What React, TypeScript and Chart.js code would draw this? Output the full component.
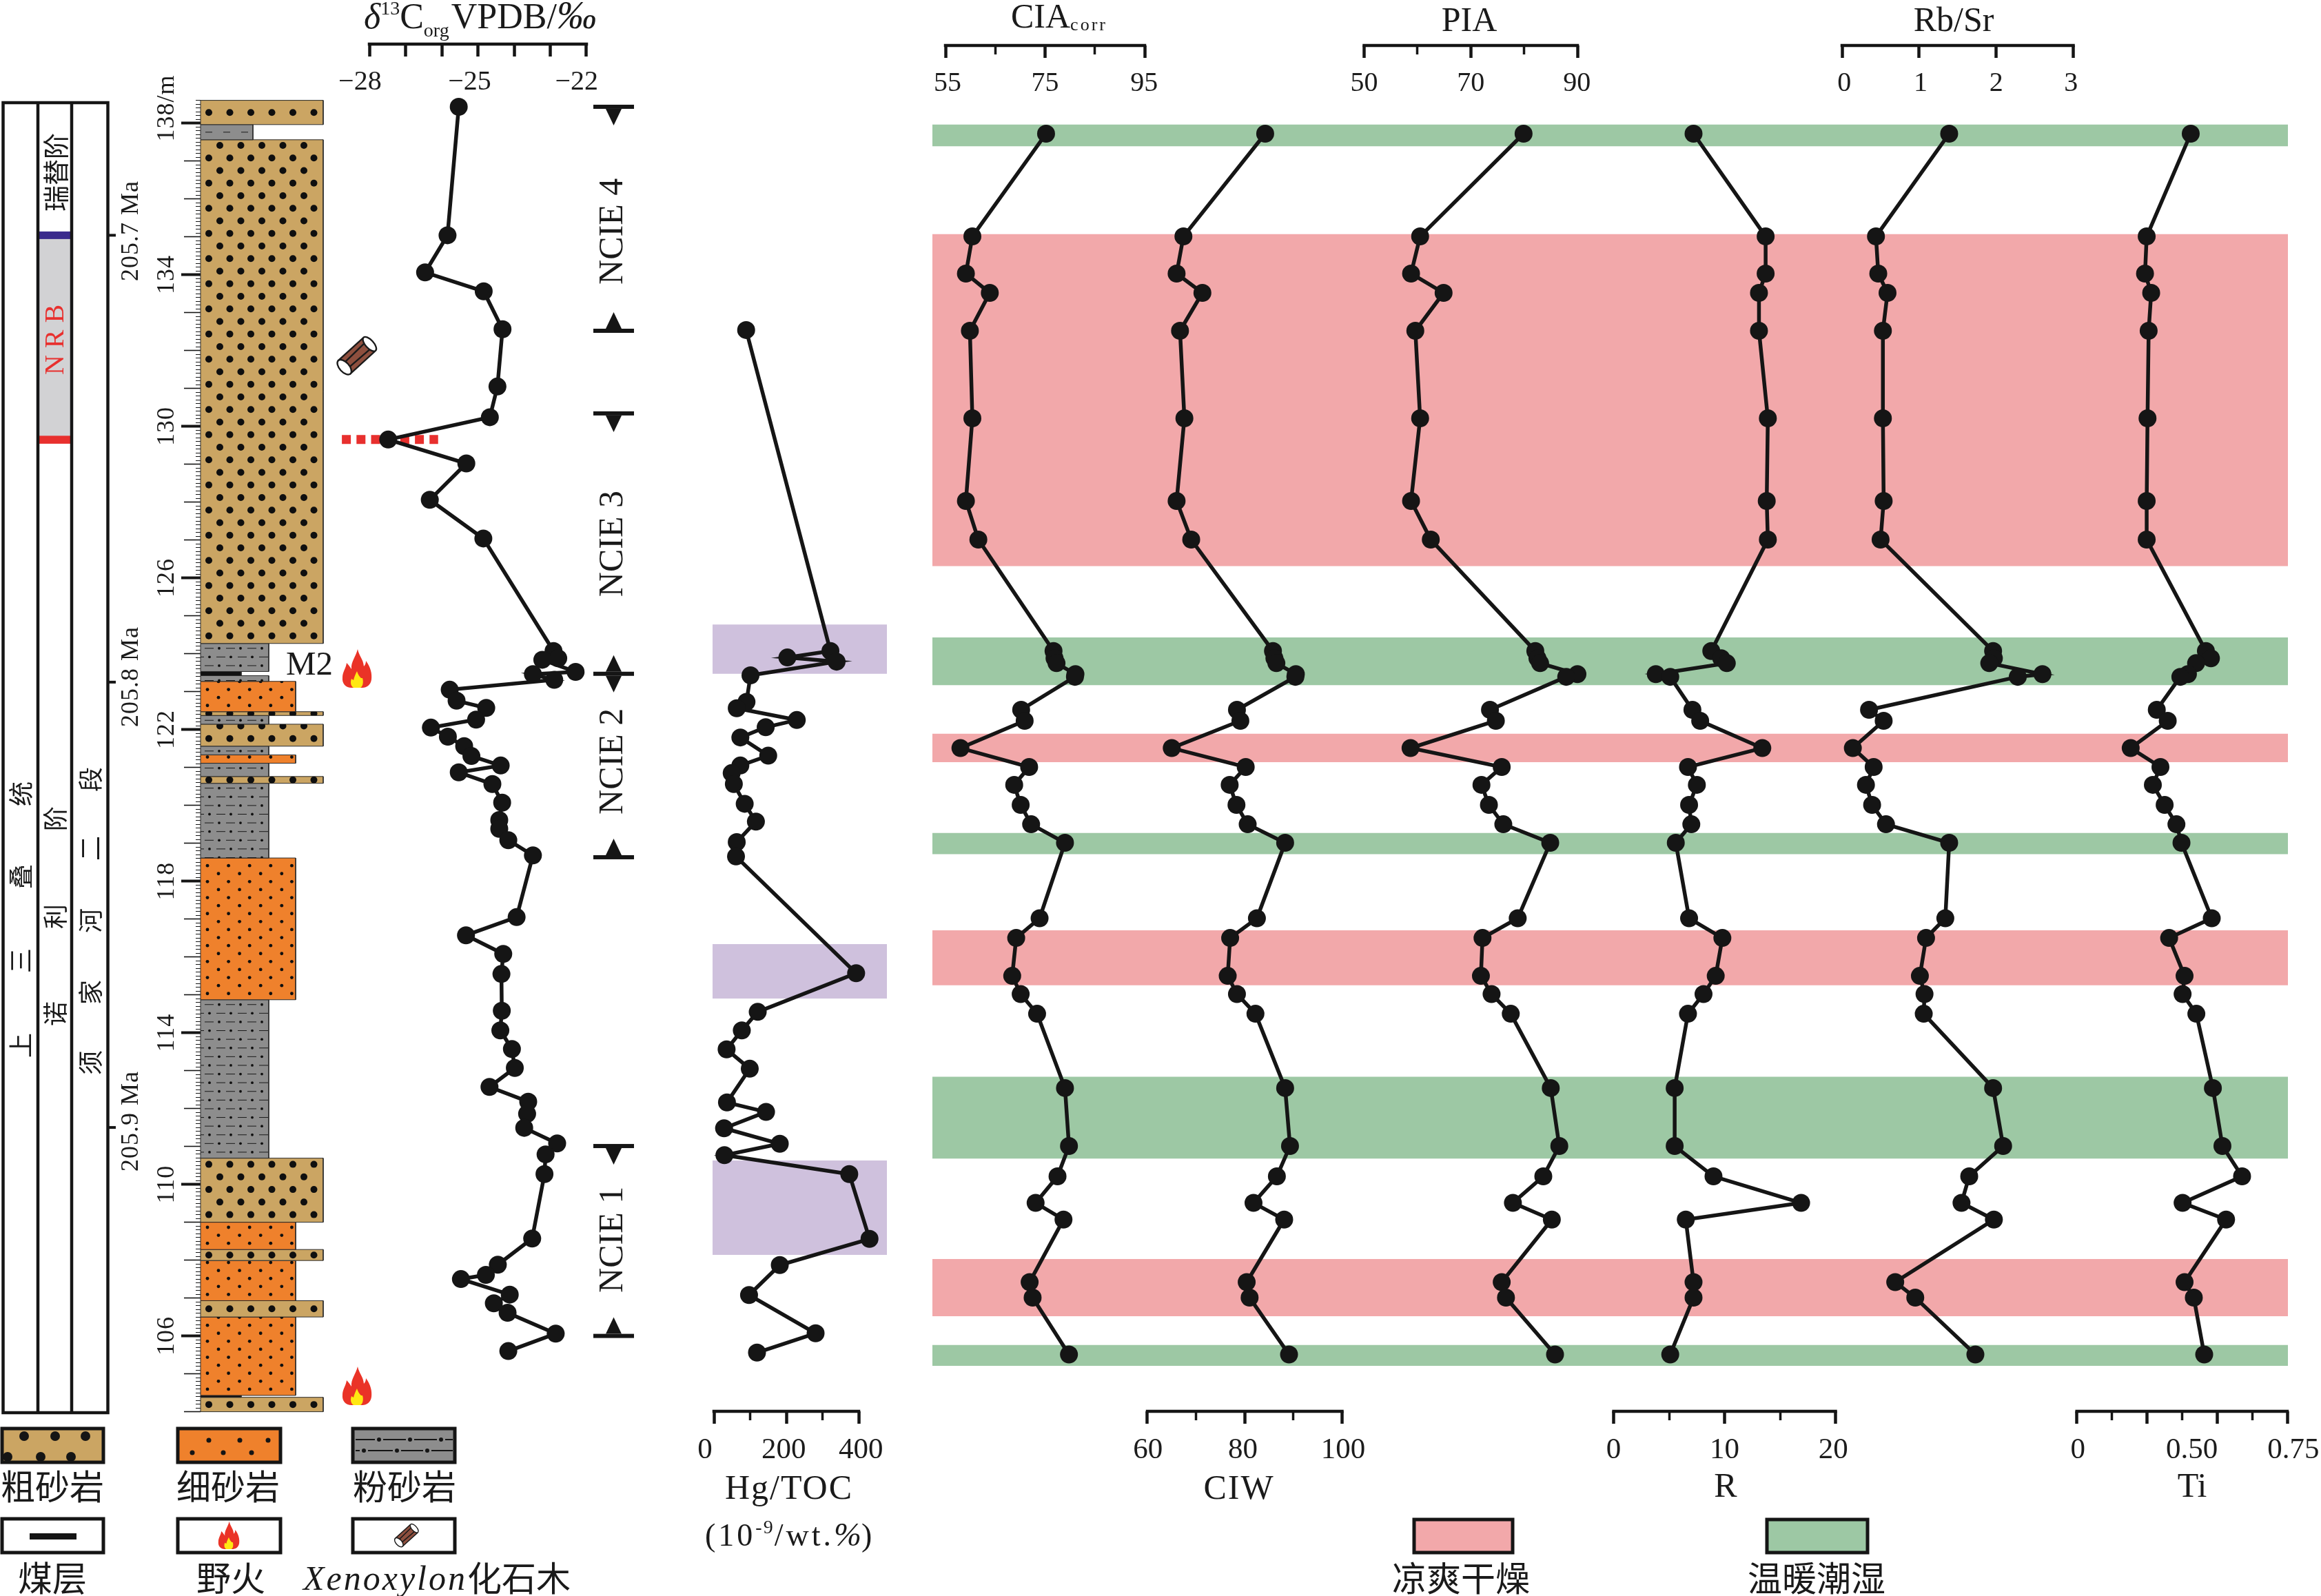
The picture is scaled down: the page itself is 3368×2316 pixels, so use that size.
import React, { useEffect, useRef } from 'react';
import { Chart, registerables } from 'chart.js';

Chart.register(...registerables);

const W = 3368;
const H = 2316;
const SERIF = '"Liberation Serif"';
const CJK = '"Noto Sans CJK SC"';
const INK = '#151515';

// ---------- data ----------
const sampleDepth = [137.72, 135.01, 134.03, 133.52, 132.52, 130.21, 128.03, 127.01, 124.07, 123.88, 123.75, 123.46, 123.39, 122.52, 122.23, 121.51, 121.01, 120.54, 120.01, 119.5, 119.01, 117.02, 116.5, 115.5, 115.02, 114.5, 112.54, 111.01, 110.21, 109.51, 109.07, 107.42, 107.01, 105.51];
const ciaCorr = [75.2, 60.4, 59.1, 63.9, 59.9, 60.4, 59.1, 61.6, 76.7, 76.9, 77.3, 81.1, 81.0, 70.2, 70.9, 58.0, 71.8, 68.8, 70.1, 72.2, 79.0, 73.9, 69.2, 68.4, 70.1, 73.4, 79.0, 79.8, 77.5, 73.1, 78.7, 71.9, 72.5, 79.8];
const ciw = [84.2, 67.4, 66.0, 71.3, 66.7, 67.6, 66.0, 69.0, 85.8, 86.1, 86.5, 90.5, 90.4, 78.4, 79.1, 65.0, 80.2, 76.9, 78.3, 80.6, 88.3, 82.5, 77.0, 76.5, 78.4, 82.2, 88.3, 89.3, 86.6, 81.8, 88.1, 80.4, 81.0, 89.1];
const pia = [79.9, 60.5, 58.8, 64.9, 59.6, 60.5, 58.8, 62.5, 82.1, 82.5, 83.0, 90.0, 87.9, 73.6, 74.7, 58.7, 75.8, 72.0, 73.4, 76.1, 84.9, 78.8, 72.2, 71.9, 73.9, 77.5, 85.0, 86.6, 83.6, 77.9, 85.2, 75.8, 76.6, 85.8];
const rIndex = [7.2, 13.7, 13.7, 13.1, 13.1, 13.9, 13.8, 13.9, 8.8, 9.7, 10.2, 3.8, 5.1, 7.1, 7.8, 13.4, 6.7, 7.5, 6.8, 7.0, 5.6, 6.8, 9.8, 9.2, 8.1, 6.7, 5.5, 5.5, 9.0, 16.9, 6.5, 7.2, 7.2, 5.1];
const rbSr = [1.39, 0.44, 0.47, 0.59, 0.53, 0.53, 0.54, 0.5, 1.96, 1.97, 1.91, 2.6, 2.28, 0.35, 0.54, 0.14, 0.41, 0.31, 0.39, 0.57, 1.39, 1.34, 1.09, 1.01, 1.07, 1.06, 1.96, 2.09, 1.65, 1.55, 1.97, 0.69, 0.95, 1.73];
const ti = [0.406, 0.249, 0.243, 0.265, 0.256, 0.252, 0.249, 0.249, 0.46, 0.478, 0.425, 0.396, 0.369, 0.285, 0.324, 0.192, 0.298, 0.271, 0.313, 0.355, 0.373, 0.481, 0.329, 0.384, 0.377, 0.426, 0.485, 0.519, 0.589, 0.377, 0.532, 0.384, 0.417, 0.454];

const d13cDepth = [138.43, 135.04, 134.06, 133.56, 132.56, 131.05, 130.24, 129.65, 129.02, 128.06, 127.04, 124.07, 123.88, 123.84, 123.52, 123.46, 123.31, 123.05, 122.76, 122.57, 122.26, 122.05, 121.81, 121.56, 121.3, 121.05, 120.87, 120.56, 120.07, 119.61, 119.38, 119.08, 118.68, 117.05, 116.57, 116.08, 115.55, 114.58, 114.06, 113.57, 113.07, 112.57, 112.18, 111.86, 111.49, 111.08, 110.79, 110.27, 108.57, 107.88, 107.61, 107.5, 107.09, 106.86, 106.61, 106.06, 105.6];
const d13c = [-25.53, -25.84, -26.46, -24.84, -24.32, -24.46, -24.67, -27.48, -25.32, -26.33, -24.85, -22.91, -22.78, -23.22, -22.3, -23.48, -22.89, -25.78, -25.59, -24.77, -25.05, -26.3, -25.83, -25.38, -25.18, -24.37, -25.53, -24.6, -24.33, -24.41, -24.41, -24.16, -23.48, -23.93, -25.33, -24.3, -24.35, -24.34, -24.38, -24.06, -23.98, -24.68, -23.61, -23.64, -23.72, -22.81, -23.13, -23.16, -23.5, -24.45, -24.78, -25.47, -24.12, -24.56, -24.18, -22.85, -24.16];

const hgDepth = [132.54, 124.07, 123.9, 123.79, 123.43, 122.73, 122.56, 122.25, 122.06, 121.79, 121.31, 121.05, 120.85, 120.56, 120.04, 119.57, 119.03, 118.65, 115.57, 114.55, 114.06, 113.56, 113.05, 112.16, 111.91, 111.48, 111.07, 110.77, 110.27, 108.56, 107.87, 107.08, 106.07, 105.56];
const hgToc = [89, 322, 203, 339, 101, 90, 63, 229, 143, 73, 150, 73, 49, 55, 85, 116, 63, 61, 393, 121, 77, 35, 99, 36, 144, 28, 182, 29, 374, 430, 182, 97, 281, 119];

const coolTop = [135.07, 121.89, 116.7, 108.03];
const coolBase = [126.31, 121.14, 115.25, 106.52];
const warmTop = [137.96, 124.43, 119.27, 112.84, 105.76];
const warmBase = [137.39, 123.17, 118.71, 110.68, 105.21];
const hgTop = [124.77, 116.34, 110.63];
const hgBase = [123.47, 114.9, 108.14];

const lithTop = [138.6, 137.96, 137.56, 124.27, 123.53, 123.42, 123.27, 122.47, 122.37, 122.14, 121.56, 121.33, 121.11, 120.76, 120.58, 118.61, 114.87, 110.69, 109.0, 108.28, 107.99, 106.93, 106.5, 104.43, 104.38];
const lithBase = [137.96, 137.56, 124.27, 123.53, 123.42, 123.27, 122.47, 122.37, 122.14, 121.56, 121.33, 121.11, 120.76, 120.58, 118.61, 114.87, 110.69, 109.0, 108.28, 107.99, 106.93, 106.5, 104.43, 104.38, 104.0];
const lithType = ['coarse', 'siltThin', 'coarse', 'silt', 'coal', 'silt', 'fine', 'coarse', 'silt', 'coarse', 'silt', 'fine', 'silt', 'coarse', 'silt', 'fine', 'silt', 'coarse', 'fine', 'coarse', 'fine', 'coarse', 'fine', 'coal', 'coarse'];

const ncieDepth = [138.43, 132.52, 130.34, 123.47, 118.63, 111.01, 106.0];
const ncieArrow = ['down', 'up', 'down', 'both', 'up', 'down', 'up'];
const ncieLabels = ['NCIE 4', 'NCIE 3', 'NCIE 2', 'NCIE 1'];
const ncieLabelDepth = [135.14, 126.9, 121.16, 108.54];

const depthMajor = [138, 134, 130, 126, 122, 118, 114, 110, 106];
const depthLabels = ['138/m', '134', '130', '126', '122', '118', '114', '110', '106'];
const ageDepth = [135.04, 123.25, 111.5];
const ageLabels = ['205.7 Ma', '205.8 Ma', '205.9 Ma'];
const nrbDepth = 129.65;
const nrbDashX = [-28.76, -26.1];

const TRACKS = [
  { id: 'D13C', v0: -28, v1: -22, p0: 536, p1: 851, axisPx: 64, labelSize: 40, major: [-28, -27, -26, -25, -24, -23, -22], minor: [], labels: ['\u221228', '\u221225', '\u221222'], labelAt: [-28.26, -25.23, -22.27], values: d13c, depth: d13cDepth },
  { id: 'Hg', v0: 0, v1: 400, p0: 1036, p1: 1246, axisPx: 2048, labelSize: 43, major: [0, 200, 400], minor: [100, 300], labels: ['0', '200', '400'], labelAt: [-25, 193, 406], values: hgToc, depth: hgDepth },
  { id: 'CIA', v0: 55, v1: 95, p0: 1372, p1: 1661, axisPx: 66, labelSize: 40, major: [55, 75, 95], minor: [65, 85], labels: ['55', '75', '95'], labelAt: [55.4, 75, 94.9], values: ciaCorr, depth: sampleDepth },
  { id: 'CIW', v0: 60, v1: 100, p0: 1665, p1: 1947.5, axisPx: 2048, labelSize: 43, major: [60, 80, 100], minor: [70, 90], labels: ['60', '80', '100'], labelAt: [60.1, 79.6, 100.2], values: ciw, depth: sampleDepth },
  { id: 'PIA', v0: 50, v1: 90, p0: 1979.5, p1: 2289, axisPx: 66, labelSize: 40, major: [50, 70, 90], minor: [60, 80], labels: ['50', '70', '90'], labelAt: [50, 70, 89.9], values: pia, depth: sampleDepth },
  { id: 'R', v0: 0, v1: 20, p0: 2341.6, p1: 2663.5, axisPx: 2048, labelSize: 43, major: [0, 10, 20], minor: [5, 15], labels: ['0', '10', '20'], labelAt: [0, 10, 19.8], values: rIndex, depth: sampleDepth },
  { id: 'RbSr', v0: 0, v1: 3, p0: 2673, p1: 3008.5, axisPx: 66, labelSize: 40, major: [0, 1, 2, 3], minor: [], labels: ['0', '1', '2', '3'], labelAt: [0.03, 1.02, 2, 2.97], values: rbSr, depth: sampleDepth },
  { id: 'Ti', v0: 0, v1: 0.75, p0: 3013.7, p1: 3319, axisPx: 2048, labelSize: 43, major: [0, 0.25, 0.5, 0.75], minor: [0.125, 0.375, 0.625], labels: ['0', '0.50', '0.75'], labelAt: [0.004, 0.41, 0.772], values: ti, depth: sampleDepth },
];

const BAND_L = 1353;
const BAND_R = 3320;
const HG_L = 1034;
const HG_R = 1287;
const COOL = '#F2A8AA';
const WARM = '#9DC8A4';
const HG_BAND = '#CFC1DD';
const LITH_FILL: any = { coarse: '#CBA563', fine: '#EF812C', silt: '#8D8D8D', siltThin: '#8D8D8D', coal: '#111111' };
const LITH_X0 = 291;
const LITH_X1: any = { coarse: 469, fine: 429, silt: 390, siltThin: 367, coal: 350 };
const LABEL_DROP = 31;

// ---------- helpers ----------
const spanOf = (v0: number, v1: number, p0: number, p1: number, size: number) => {
  const k = (v1 - v0) / (p1 - p0);
  return { min: v0 - p0 * k, max: v0 + (size - p0) * k };
};

const box = (label: string, x0: number, x1: number, top: number, base: number, color: string, order: number, edge = 0) => ({
  type: 'scatter',
  label,
  xAxisID: 'xPx',
  yAxisID: 'yDepth',
  data: [{ x: x0, y: top }, { x: x1, y: top }, { x: x1, y: base }, { x: x0, y: base }, { x: x0, y: top }],
  showLine: true,
  fill: 'shape',
  backgroundColor: color,
  borderColor: edge ? '#2a2a2a' : color,
  borderWidth: edge,
  pointRadius: 0,
  order,
});

function axisScales() {
  const scales: any = {
    xPx: { type: 'linear', axis: 'x', display: false, min: 0, max: W },
    yPx: { type: 'linear', axis: 'y', display: false, min: 0, max: H, reverse: true },
  };
  const depthRange = spanOf(138, 106, 178.6, 178.6 + 32 * 55, H);
  // depth increases upward: max at canvas top, min at canvas bottom
  const yRange = { min: depthRange.max, max: depthRange.min };
  const depthAxis = (ticks: number[], len: number, width: number) => ({
    type: 'linear', axis: 'y', position: { xPx: LITH_X0 }, ...yRange,
    border: { display: false },
    grid: { drawOnChartArea: false, drawTicks: true, tickLength: len, tickWidth: width, tickColor: INK },
    ticks: { display: false, autoSkip: false },
    afterBuildTicks: (s: any) => { s.ticks = ticks.map((value) => ({ value })); },
  });
  const fine: number[] = [];
  const unit: number[] = [];
  for (let i = 1040; i <= 1386; i++) {
    if (i % 10 === 0) { if (!depthMajor.includes(i / 10)) unit.push(i / 10); } else fine.push(i / 10);
  }
  scales.yDepth = depthAxis(depthMajor, 28, 4);
  scales.yDepthUnit = depthAxis(unit, 24, 1.6);
  scales.yDepthFine = depthAxis(fine, 7, 1);

  for (const t of TRACKS) {
    const range = spanOf(t.v0, t.v1, t.p0, t.p1, W);
    const marks = (ticks: number[], len: number, width: number) => ({
      type: 'linear', axis: 'x', position: { yPx: t.axisPx }, ...range,
      border: { display: false },
      grid: { drawOnChartArea: false, drawTicks: true, tickLength: len, tickWidth: width, tickColor: INK },
      ticks: { display: false, autoSkip: false },
      afterBuildTicks: (s: any) => { s.ticks = ticks.map((value) => ({ value })); },
    });
    scales['x' + t.id] = marks(t.major, 18, 4.5);
    scales['x' + t.id + 'Minor'] = marks(t.minor, 13, 3.5);
    scales['x' + t.id + 'Labels'] = {
      type: 'linear', axis: 'x', position: { yPx: t.axisPx + LABEL_DROP }, ...range,
      border: { display: false },
      grid: { display: false, drawTicks: false },
      ticks: {
        autoSkip: false, maxRotation: 0, minRotation: 0, padding: 0, color: '#1c1c1c',
        font: { family: SERIF, size: t.labelSize },
        callback: (_v: any, i: number) => t.labels[i],
      },
      afterBuildTicks: (s: any) => { s.ticks = t.labelAt.map((value) => ({ value })); },
    };
  }
  return scales;
}

function datasets() {
  const out: any[] = [];
  coolTop.forEach((d, i) => out.push(box('cool-dry', BAND_L, BAND_R, d, coolBase[i], COOL, 50)));
  warmTop.forEach((d, i) => out.push(box('warm-humid', BAND_L, BAND_R, d, warmBase[i], WARM, 50)));
  hgTop.forEach((d, i) => out.push(box('Hg anomaly', HG_L, HG_R, d, hgBase[i], HG_BAND, 50)));
  lithTop.forEach((d, i) => {
    const k = lithType[i];
    out.push(box(k, LITH_X0, LITH_X1[k], d, lithBase[i], LITH_FILL[k], 40, 1));
  });
  out.push({
    type: 'scatter', label: 'NRB', xAxisID: 'xD13C', yAxisID: 'yDepth',
    data: nrbDashX.map((x) => ({ x, y: nrbDepth })),
    showLine: true, borderColor: '#E8302E', borderWidth: 13, borderDash: [13, 8.2], pointRadius: 0, order: 30,
  });
  for (const t of TRACKS) {
    out.push({
      type: 'scatter', label: t.id + ' axis', xAxisID: 'x' + t.id, yAxisID: 'yPx',
      data: [{ x: t.v0, y: t.axisPx }, { x: t.v1, y: t.axisPx }],
      showLine: true, borderColor: INK, borderWidth: 4.5, borderCapStyle: 'square', pointRadius: 0, order: 20,
    });
    out.push({
      type: 'scatter', label: t.id, xAxisID: 'x' + t.id, yAxisID: 'yDepth',
      data: t.values.map((x, i) => ({ x, y: t.depth[i] })),
      showLine: true, tension: 0, borderColor: INK, borderWidth: 5.5,
      pointRadius: 13, pointBorderWidth: 0, pointBackgroundColor: INK, order: 1,
    });
  }
  return out;
}

// ---------- painting helpers ----------
function dot(ctx: any, x: number, y: number, r: number) {
  ctx.beginPath();
  ctx.arc(x, y, r, 0, Math.PI * 2);
  ctx.fill();
}

function paintUnit(ctx: any, kind: string, x0: number, x1: number, yt: number, yb: number) {
  const h = yb - yt;
  ctx.save();
  ctx.beginPath();
  ctx.rect(x0, yt, x1 - x0, h);
  ctx.clip();
  ctx.fillStyle = '#0f0f0f';
  ctx.strokeStyle = '#1a1a1a';
  if (kind === 'coarse') {
    if (h < 30 || (h >= 34 && h < 40)) {
      for (let x = x0 + 12; x < x1; x += 30.5) dot(ctx, x, (yt + yb) / 2, 5);
    } else {
      let row = 0;
      for (let y = yb - 11; y > yt - 6; y -= 18.25, row++) {
        for (let x = x0 + (row % 2 ? 28 : 12); x < x1; x += 30.5) dot(ctx, x, y, 5);
      }
    }
  } else if (kind === 'fine') {
    let row = 0;
    for (let y = yb - 9; y > yt; y -= 11.6, row++) {
      for (let x = x0 + (row % 2 ? 26 : 10); x < x1 - 3; x += 30.6) dot(ctx, x, y, 2.4);
    }
  } else if (kind === 'silt') {
    let row = 0;
    ctx.lineWidth = 1;
    for (let y = yt + 7; y < yb; y += 12.6, row++) {
      for (let x = x0 + (row % 2 ? -8 : 6); x < x1; x += 31) {
        ctx.beginPath();
        ctx.moveTo(x, y);
        ctx.lineTo(x + 13, y);
        ctx.stroke();
        dot(ctx, x + 21, y, 1.9);
      }
    }
  } else if (kind === 'siltThin') {
    ctx.lineWidth = 1;
    for (let x = x0 + 7; x < x1 - 6; x += 26) {
      ctx.beginPath();
      ctx.moveTo(x, (yt + yb) / 2);
      ctx.lineTo(x + 10, (yt + yb) / 2);
      ctx.stroke();
    }
  }
  ctx.restore();
}

function text(ctx: any, s: string, x: number, y: number, font: string, opt: any = {}) {
  ctx.save();
  ctx.font = font;
  ctx.fillStyle = opt.color || '#1a1a1a';
  ctx.textAlign = opt.align || 'center';
  ctx.textBaseline = opt.baseline || 'alphabetic';
  if (opt.spacing) ctx.letterSpacing = opt.spacing + 'px';
  ctx.translate(x, y);
  if (opt.rot) ctx.rotate(opt.rot);
  ctx.fillText(s, 0, 0);
  ctx.restore();
}

function rich(ctx: any, parts: any[], x: number, y: number) {
  let cx = x;
  for (const p of parts) {
    ctx.save();
    ctx.font = p.font;
    ctx.fillStyle = '#1a1a1a';
    ctx.textAlign = 'left';
    ctx.textBaseline = 'alphabetic';
    if (p.spacing) ctx.letterSpacing = p.spacing + 'px';
    ctx.fillText(p.t, cx, y + (p.dy || 0));
    cx += ctx.measureText(p.t).width + (p.gap || 0);
    ctx.restore();
  }
}

function flame(ctx: any, cx: number, bottom: number, k: number) {
  ctx.save();
  ctx.translate(cx, bottom);
  ctx.scale(k, k);
  ctx.fillStyle = '#EA3327';
  ctx.beginPath();
  ctx.moveTo(1, -56);
  ctx.bezierCurveTo(3, -46, 9, -42, 10, -31);
  ctx.bezierCurveTo(12, -33, 13, -36, 13, -39);
  ctx.bezierCurveTo(20, -30, 22, -20, 21, -12);
  ctx.bezierCurveTo(20, -4, 14, 0, 8, 0);
  ctx.lineTo(-8, 0);
  ctx.bezierCurveTo(-16, 0, -22, -6, -21, -15);
  ctx.bezierCurveTo(-21, -23, -16, -28, -15, -36);
  ctx.bezierCurveTo(-12, -33, -10, -30, -8, -27);
  ctx.bezierCurveTo(-9, -38, -2, -44, 1, -56);
  ctx.fill();
  ctx.fillStyle = '#FFE812';
  ctx.beginPath();
  ctx.moveTo(0, -24);
  ctx.bezierCurveTo(2, -18, 4, -16, 6, -14);
  ctx.lineTo(8, -14);
  ctx.bezierCurveTo(10, -8, 8, -1, 5, 0);
  ctx.lineTo(-5, 0);
  ctx.bezierCurveTo(-9, -2, -10, -8, -8, -13);
  ctx.lineTo(-5, -11);
  ctx.bezierCurveTo(-4, -16, -2, -20, 0, -24);
  ctx.fill();
  ctx.restore();
}

function wood(ctx: any, cx: number, cy: number, k: number) {
  ctx.save();
  ctx.translate(cx, cy);
  ctx.rotate(-0.74);
  ctx.scale(k, k);
  ctx.lineWidth = 2;
  ctx.strokeStyle = '#1a1a1a';
  ctx.fillStyle = '#8E4F3E';
  ctx.beginPath();
  ctx.rect(-21, -11, 40, 22);
  ctx.fill();
  ctx.stroke();
  ctx.beginPath();
  ctx.moveTo(-18, -4);
  ctx.lineTo(16, -5);
  ctx.moveTo(-18, 4);
  ctx.lineTo(17, 5);
  ctx.stroke();
  ctx.fillStyle = '#fff';
  ctx.beginPath();
  ctx.ellipse(-21, 0, 6, 11, 0, 0, Math.PI * 2);
  ctx.fill();
  ctx.stroke();
  ctx.beginPath();
  ctx.ellipse(21, 0, 5, 11, 0, 0, Math.PI * 2);
  ctx.fill();
  ctx.stroke();
  ctx.restore();
}

const decorations = {
  id: 'decorations',
  afterDatasetsDraw(chart: any) {
    const ctx = chart.ctx;
    const yd = (d: number) => chart.scales.yDepth.getPixelForValue(d);
    // lithology patterns
    lithTop.forEach((d, i) => {
      const k = lithType[i];
      paintUnit(ctx, k, LITH_X0, LITH_X1[k], yd(d), yd(lithBase[i]));
    });
    // stratigraphic column
    ctx.save();
    ctx.fillStyle = '#D2D2D4';
    ctx.fillRect(57, yd(135.05), 46, yd(129.65) - yd(135.05));
    ctx.fillStyle = '#3A2A8C';
    ctx.fillRect(57, yd(135.14), 47, yd(134.94) - yd(135.14));
    ctx.fillStyle = '#E8302E';
    ctx.fillRect(53, yd(129.75), 52, yd(129.54) - yd(129.75));
    ctx.strokeStyle = INK;
    ctx.lineWidth = 4.5;
    ctx.strokeRect(4.5, 149, 152, 1901);
    ctx.beginPath();
    ctx.moveTo(55, 149);
    ctx.lineTo(55, 2050);
    ctx.moveTo(104, 149);
    ctx.lineTo(104, 2050);
    ctx.stroke();
    ageDepth.forEach((d) => {
      ctx.lineWidth = 4;
      ctx.beginPath();
      ctx.moveTo(156, yd(d));
      ctx.lineTo(168, yd(d));
      ctx.stroke();
    });
    ctx.restore();
    const rot = -Math.PI / 2;
    const cjk36 = `36px ${CJK}`;
    [['上', 1517], ['三', 1394], ['叠', 1272], ['统', 1152]].forEach(([c, y]: any) => text(ctx, c, 30, y, cjk36, { rot, baseline: 'middle' }));
    [['诺', 1471], ['利', 1330], ['阶', 1188]].forEach(([c, y]: any) => text(ctx, c, 80, y, cjk36, { rot, baseline: 'middle' }));
    [['须', 1542], ['家', 1440], ['河', 1336], ['二', 1231], ['段', 1131]].forEach(([c, y]: any) => text(ctx, c, 131, y, cjk36, { rot, baseline: 'middle' }));
    text(ctx, '瑞替阶', 81, 250, `38px ${CJK}`, { rot, baseline: 'middle' });
    text(ctx, 'N R B', 81, 493, `40px ${SERIF}`, { rot, baseline: 'middle', color: '#E8302E' });
    ageLabels.forEach((s, i) => text(ctx, s, 191, [335, 982, 1627][i], `36px ${SERIF}`, { rot, baseline: 'middle', spacing: 1 }));
    // depth tick labels
    depthMajor.forEach((d, i) => {
      if (i === 0) text(ctx, depthLabels[0], 243, yd(d) + 27, `36px ${SERIF}`, { rot, baseline: 'middle', align: 'left', spacing: 1 });
      else text(ctx, depthLabels[i], 243, yd(d), `36px ${SERIF}`, { rot, baseline: 'middle', spacing: 1 });
    });
    // NCIE markers
    ctx.save();
    ctx.fillStyle = INK;
    ncieDepth.forEach((d, i) => {
      const y = yd(d);
      ctx.fillRect(861, y - 3, 59, 6);
      const a = ncieArrow[i];
      if (a === 'down' || a === 'both') {
        ctx.beginPath();
        ctx.moveTo(879, y + 3);
        ctx.lineTo(902, y + 3);
        ctx.lineTo(890.5, y + 27);
        ctx.fill();
      }
      if (a === 'up' || a === 'both') {
        ctx.beginPath();
        ctx.moveTo(879, y - 3);
        ctx.lineTo(902, y - 3);
        ctx.lineTo(890.5, y - 27);
        ctx.fill();
      }
    });
    ctx.restore();
    ncieLabels.forEach((s, i) => text(ctx, s, 890, yd(ncieLabelDepth[i]), `50px ${SERIF}`, { rot, baseline: 'middle' }));
    // column annotations
    text(ctx, 'M2', 449, 979, `49px ${SERIF}`);
    flame(ctx, 518, 998, 1);
    flame(ctx, 518, 2039, 1);
    wood(ctx, 518, 516, 1.18);
    // axis titles
    rich(ctx, [
      { t: '\u03B4', font: `italic 52px ${SERIF}` },
      { t: '13', font: `28px ${SERIF}`, dy: -20 },
      { t: 'C', font: `52px ${SERIF}` },
      { t: 'org', font: `28px ${SERIF}`, dy: 12, gap: 3 },
      { t: 'VPDB/', font: `52px ${SERIF}` },
      { t: '\u2030', font: `italic 58px ${SERIF}` },
    ], 528, 41);
    rich(ctx, [
      { t: 'CIA', font: `50px ${SERIF}` },
      { t: 'corr', font: `26px ${SERIF}`, dy: 4, spacing: 3 },
    ], 1467, 40);
    text(ctx, 'PIA', 2132, 45, `50px ${SERIF}`);
    text(ctx, 'Rb/Sr', 2835, 45, `50px ${SERIF}`);
    text(ctx, 'Hg/TOC', 1145, 2175, `50px ${SERIF}`, { spacing: 2 });
    rich(ctx, [
      { t: '(10', font: `46px ${SERIF}`, spacing: 4 },
      { t: '-9', font: `28px ${SERIF}`, dy: -18, spacing: 2 },
      { t: '/wt.', font: `46px ${SERIF}`, spacing: 4 },
      { t: '%', font: `italic 48px ${SERIF}` },
      { t: ')', font: `46px ${SERIF}` },
    ], 1023, 2243);
    text(ctx, 'CIW', 1798, 2175, `50px ${SERIF}`, { spacing: 2 });
    text(ctx, 'R', 2504, 2172, `50px ${SERIF}`);
    text(ctx, 'Ti', 3181, 2172, `50px ${SERIF}`);
    // legend
    const swatch = (x0: number, x1: number, y0: number, y1: number, fill: string) => {
      ctx.save();
      ctx.fillStyle = fill;
      ctx.fillRect(x0, y0, x1 - x0, y1 - y0);
      ctx.restore();
    };
    const frame = (x0: number, x1: number, y0: number, y1: number) => {
      ctx.save();
      ctx.strokeStyle = INK;
      ctx.lineWidth = 5;
      ctx.strokeRect(x0, y0, x1 - x0, y1 - y0);
      ctx.restore();
    };
    swatch(2, 150, 2073, 2122, LITH_FILL.coarse);
    swatch(257, 407, 2073, 2122, LITH_FILL.fine);
    swatch(511, 661, 2073, 2122, LITH_FILL.silt);
    ctx.save();
    ctx.beginPath();
    ctx.rect(2, 2073, 148, 49);
    ctx.clip();
    ctx.fillStyle = INK;
    [35, 80, 124].forEach((x) => dot(ctx, x, 2084, 7));
    [11, 59, 103].forEach((x) => dot(ctx, x, 2114, 7));
    ctx.restore();
    ctx.save();
    ctx.fillStyle = INK;
    [303, 348, 389].forEach((x) => dot(ctx, x, 2090, 3.5));
    [279, 324, 365].forEach((x) => dot(ctx, x, 2108, 3.5));
    [550, 595, 640].forEach((x) => dot(ctx, x, 2089, 3));
    [528, 576, 620].forEach((x) => dot(ctx, x, 2105, 3));
    ctx.strokeStyle = INK;
    ctx.lineWidth = 2;
    [[516, 544], [556, 589], [601, 634], [646, 657]].forEach(([a, b]) => {
      ctx.beginPath();
      ctx.moveTo(a, 2089);
      ctx.lineTo(b, 2089);
      ctx.stroke();
    });
    [[516, 522], [534, 570], [582, 614], [626, 657]].forEach(([a, b]) => {
      ctx.beginPath();
      ctx.moveTo(a, 2105);
      ctx.lineTo(b, 2105);
      ctx.stroke();
    });
    ctx.fillRect(43, 2225, 68, 9);
    ctx.restore();
    frame(3, 150, 2073, 2122);
    frame(258, 407, 2073, 2122);
    frame(512, 660, 2073, 2122);
    frame(3, 150, 2204, 2253);
    frame(258, 407, 2204, 2253);
    frame(512, 660, 2204, 2253);
    flame(ctx, 332, 2248, 0.72);
    wood(ctx, 590, 2228, 0.72);
    const cjk50 = `50px ${CJK}`;
    text(ctx, '粗砂岩', 76, 2176, cjk50);
    text(ctx, '细砂岩', 331, 2176, cjk50);
    text(ctx, '粉砂岩', 587, 2176, cjk50);
    text(ctx, '煤层', 76, 2309, cjk50);
    text(ctx, '野火', 335, 2309, cjk50);
    text(ctx, 'Xenoxylon', 440, 2307, `italic 50px ${SERIF}`, { align: 'left', spacing: 3 });
    text(ctx, '化石木', 753, 2309, cjk50);
    swatch(2051, 2195, 2205, 2253, COOL);
    frame(2052, 2195, 2205, 2253);
    swatch(2563, 2710, 2205, 2253, WARM);
    frame(2564, 2710, 2205, 2253);
    text(ctx, '凉爽干燥', 2120, 2309, cjk50);
    text(ctx, '温暖潮湿', 2636, 2309, cjk50);
  },
};

export default function App() {
  const ref = useRef<HTMLCanvasElement | null>(null);
  useEffect(() => {
    document.body.style.margin = '0';
    document.body.style.background = '#fff';
    const chart = new Chart(ref.current as any, {
      type: 'scatter',
      data: { datasets: datasets() as any },
      options: {
        responsive: false,
        animation: false,
        devicePixelRatio: 1,
        events: [],
        layout: { padding: 0, autoPadding: false },
        plugins: { legend: { display: false }, tooltip: { enabled: false } },
        scales: axisScales(),
      } as any,
      plugins: [decorations],
    });
    return () => chart.destroy();
  }, []);
  return (
    <div style={{ position: 'absolute', left: 0, top: 0, width: W, height: H, background: '#fff' }}>
      <canvas ref={ref} width={W} height={H} style={{ display: 'block', width: W, height: H }} />
    </div>
  );
}
